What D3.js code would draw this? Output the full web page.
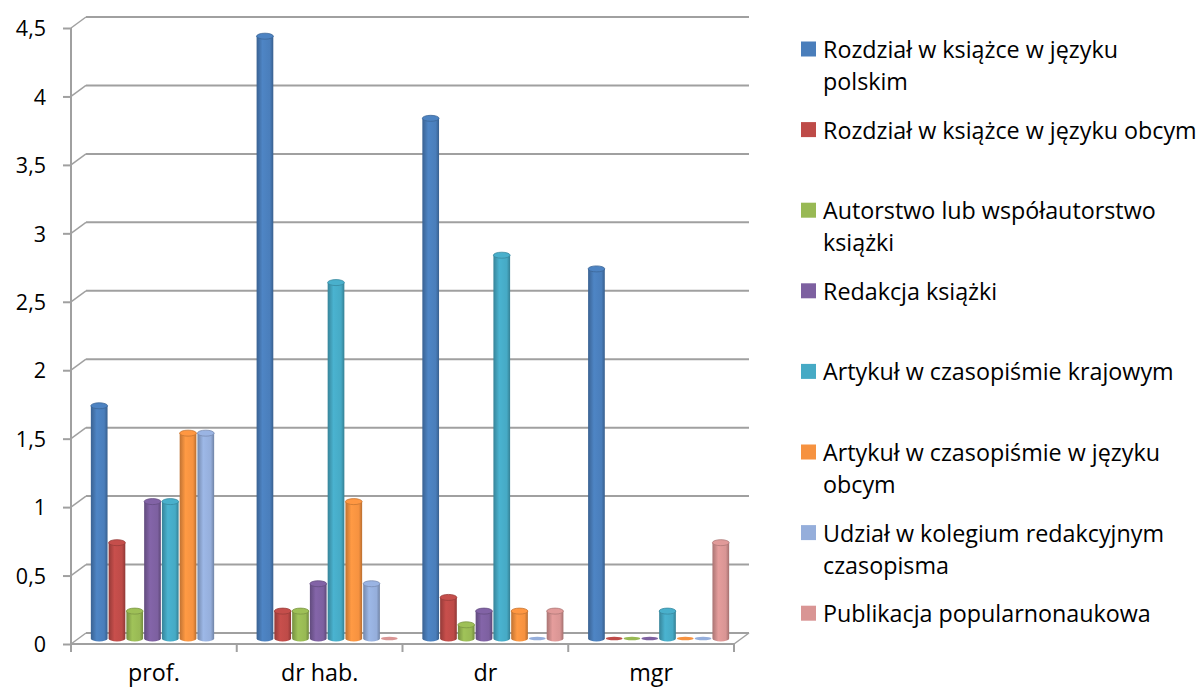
<!DOCTYPE html>
<html><head><meta charset="utf-8">
<script src="https://cdn.jsdelivr.net/npm/d3@7"></script>
<style>body{margin:0;background:#fff}svg{display:block}text{font-family:"Open Sans",sans-serif;fill:#000}</style>
</head><body><svg id="c" width="1200" height="688"></svg>
<script>
const categories = ["prof.", "dr hab.", "dr", "mgr"];
const seriesNames = [
  "Rozdział w książce w języku polskim",
  "Rozdział w książce w języku obcym",
  "Autorstwo lub współautorstwo książki",
  "Redakcja książki",
  "Artykuł w czasopiśmie krajowym",
  "Artykuł w czasopiśmie w języku obcym",
  "Udział w kolegium redakcyjnym czasopisma",
  "Publikacja popularnonaukowa"
];
const legendLines = [
  ["Rozdział w książce w języku", "polskim"],
  ["Rozdział w książce w języku obcym"],
  ["Autorstwo lub współautorstwo", "książki"],
  ["Redakcja książki"],
  ["Artykuł w czasopiśmie krajowym"],
  ["Artykuł w czasopiśmie w języku", "obcym"],
  ["Udział w kolegium redakcyjnym", "czasopisma"],
  ["Publikacja popularnonaukowa"]
];
const colors = ["#4A7EBB","#BE4B48","#98B954","#7D60A0","#46AAC5","#F69240","#95AEDB","#D99594"];
// values per series, in category order
const sRozdzialPL  = [1.7, 4.4, 3.8, 2.7];
const sRozdzialObc = [0.7, 0.2, 0.3, 0];
const sAutorstwo   = [0.2, 0.2, 0.1, 0];
const sRedakcja    = [1.0, 0.4, 0.2, 0];
const sArtKraj     = [1.0, 2.6, 2.8, 0.2];
const sArtObcy     = [1.5, 1.0, 0.2, 0];
const sKolegium    = [1.5, 0.4, 0, 0];
const sPopular     = [null, 0, 0.2, 0.7];
const seriesValues = [sRozdzialPL, sRozdzialObc, sAutorstwo, sRedakcja, sArtKraj, sArtObcy, sKolegium, sPopular];
const yTicks = [0,0.5,1,1.5,2,2.5,3,3.5,4,4.5];
const fmt = v => String(v).replace(".", ",");

const svg = d3.select("#c");
const L = 71, R = 734, B = 644, T = 28;
const DX = 15, DY = 11;
const axisCol = "#A0A0A0";

const y = d3.scaleLinear().domain([0, 4.5]).range([B, T]);
const x0 = d3.scaleBand().domain(categories).range([L, R]).paddingInner(0.149).paddingOuter(0.0745);
const x1 = d3.scaleBand().domain(d3.range(seriesNames.length)).range([0, x0.bandwidth()]).paddingInner(0.06).paddingOuter(0);

// gridlines on back wall + diagonal connectors
const g = svg.append("g");
yTicks.forEach(t => {
  g.append("line").attr("x1", L + DX).attr("x2", R + DX).attr("y1", y(t) - DY).attr("y2", y(t) - DY)
    .attr("stroke", axisCol).attr("stroke-width", 2);
  g.append("line").attr("x1", L).attr("x2", L + DX).attr("y1", y(t)).attr("y2", y(t) - DY)
    .attr("stroke", axisCol).attr("stroke-width", 1.5);
});
g.append("line").attr("x1", R).attr("x2", R + DX).attr("y1", B).attr("y2", B - DY).attr("stroke", axisCol).attr("stroke-width", 1.5);

// y axis
const yAxis = d3.axisLeft(y).tickValues(yTicks).tickFormat(fmt).tickSize(8).tickPadding(17);
const ya = svg.append("g").attr("transform", `translate(${L},0)`).call(yAxis);
ya.select(".domain").attr("stroke", axisCol).attr("stroke-width", 2).attr("d", `M-0,${T}V${B+5}`);
ya.selectAll(".tick line").attr("stroke", axisCol).attr("stroke-width", 2);
ya.selectAll(".tick text").attr("font-size", 21.5).attr("font-family", "Open Sans").attr("fill", "#000").attr("dy", "0.36em");

// x axis
const xa = svg.append("g").attr("transform", `translate(0,${B})`);
xa.append("line").attr("x1", L).attr("x2", R).attr("y1", 0).attr("y2", 0).attr("stroke", axisCol).attr("stroke-width", 2);
const bounds = [L].concat(categories.map(c => x0(c) + x0.bandwidth() + x0.step() * x0.paddingInner() / 2));
bounds.forEach(b => xa.append("line").attr("x1", b).attr("x2", b).attr("y1", 0).attr("y2", 8).attr("stroke", axisCol).attr("stroke-width", 2));
categories.forEach(c => {
  xa.append("text").attr("x", x0(c) + x0.bandwidth() / 2).attr("y", 37).attr("text-anchor", "middle")
    .attr("font-size", 23.3).text(c);
});

// gradients
const defs = svg.append("defs");
colors.forEach((c, i) => {
  const base = d3.color(c);
  const gr = defs.append("linearGradient").attr("id", "g" + i).attr("x1", "0").attr("x2", "1").attr("y1", "0").attr("y2", "0");
  gr.append("stop").attr("offset", "0").attr("stop-color", base.darker(0.7));
  gr.append("stop").attr("offset", "0.35").attr("stop-color", base.brighter(0.15));
  gr.append("stop").attr("offset", "0.8").attr("stop-color", base);
  gr.append("stop").attr("offset", "1").attr("stop-color", base.darker(0.8));
});

// bars (cylinders)
const ry = 3;
const bars = svg.append("g").attr("transform", `translate(${DX/2},${-DY/2})`);
categories.forEach((c, ci) => {
  seriesValues.forEach((vals, si) => {
    const v = vals[ci];
    if (v === null || v === undefined) return;
    const bx = x0(c) + x1(si);
    const w = x1.bandwidth();
    const cx = bx + w / 2;
    const top = y(v), bot = y(0);
    const base = d3.color(colors[si]);
    if (v > 0) {
      bars.append("path")
        .attr("d", `M${bx},${top} L${bx},${bot} A${w/2},${ry} 0 0 0 ${bx + w},${bot} L${bx + w},${top} Z`)
        .attr("fill", `url(#g${si})`);
      bars.append("ellipse").attr("cx", cx).attr("cy", top).attr("rx", w / 2).attr("ry", ry)
        .attr("fill", base.brighter(0.1)).attr("stroke", base.darker(0.6)).attr("stroke-width", 0.8);
    } else {
      bars.append("ellipse").attr("cx", cx).attr("cy", bot).attr("rx", w / 2).attr("ry", 1.8)
        .attr("fill", base);
    }
  });
});

// legend
const lg = svg.append("g");
legendLines.forEach((lines, i) => {
  const cy = 49 + i * 80.6;
  lg.append("rect").attr("x", 801).attr("y", cy - 7.5).attr("width", 15).attr("height", 15).attr("fill", colors[i]);
  lines.forEach((ln, j) => {
    lg.append("text").attr("x", 823).attr("y", cy + 9 + j * 32).attr("font-size", 23.3).text(ln);
  });
});
</script></body></html>
